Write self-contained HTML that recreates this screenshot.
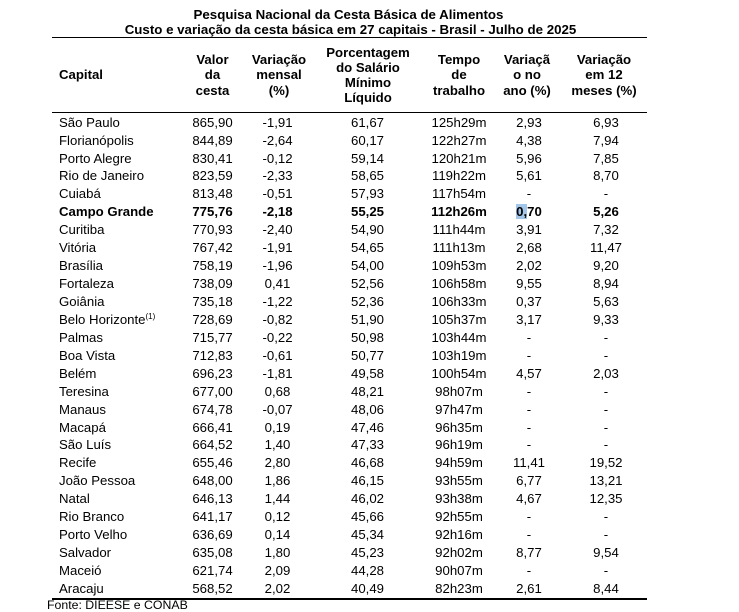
<!DOCTYPE html>
<html>
<head>
<meta charset="utf-8">
<style>
html,body{margin:0;padding:0;background:#fff;}
body{width:739px;height:611px;position:relative;overflow:hidden;font-family:"Liberation Sans",Arial,sans-serif;color:#000;}
.t{position:absolute;left:0;width:697px;text-align:center;font-weight:bold;font-size:13.3px;line-height:15px;white-space:nowrap;}
.hl{position:absolute;left:52px;width:595px;height:1.5px;background:#000;}
.hd{position:absolute;top:38px;height:74px;display:flex;align-items:center;justify-content:center;text-align:center;font-weight:bold;font-size:13.2px;line-height:15.2px;}
.r{position:absolute;left:0;width:739px;height:17.93px;font-size:13.2px;line-height:17.93px;white-space:nowrap;}
.r span{position:absolute;top:0;text-align:center;}
.r span:nth-child(1){left:59px;text-align:left;}
.r span:nth-child(2){left:180px;width:65px;}
.r span:nth-child(3){left:245px;width:65px;}
.r span:nth-child(4){left:310px;width:115px;}
.r span:nth-child(5){left:425px;width:68px;}
.r span:nth-child(6){left:493px;width:72px;}
.r span:nth-child(7){left:565px;width:82px;}
.b{font-weight:bold;}
sup{font-size:8px;line-height:0;vertical-align:5px;}
.sel{background:#a3c6e8;}
</style>
</head>
<body>
<div class="t" style="top:6.5px;">Pesquisa Nacional da Cesta Básica de Alimentos</div>
<div class="t" style="top:21.5px;left:2px;">Custo e variação da cesta básica em 27 capitais - Brasil - Julho de 2025</div>

<div class="hl" style="top:36.5px;"></div>
<div class="hd" style="left:59px;width:120px;justify-content:flex-start;">Capital</div>
<div class="hd" style="left:180px;width:65px;">Valor<br>da<br>cesta</div>
<div class="hd" style="left:245px;width:68px;">Variação<br>mensal<br>(%)</div>
<div class="hd" style="left:313px;width:110px;">Porcentagem<br>do Salário<br>Mínimo<br>Líquido</div>
<div class="hd" style="left:425px;width:68px;">Tempo<br>de<br>trabalho</div>
<div class="hd" style="left:493px;width:68px;">Variaçã<br>o no<br>ano (%)</div>
<div class="hd" style="left:563px;width:82px;">Variação<br>em 12<br>meses (%)</div>
<div class="hl" style="top:111.5px;"></div>

<div class="r" style="top:113.7px"><span>São Paulo</span><span>865,90</span><span>-1,91</span><span>61,67</span><span>125h29m</span><span>2,93</span><span>6,93</span></div>
<div class="r" style="top:131.63px"><span>Florianópolis</span><span>844,89</span><span>-2,64</span><span>60,17</span><span>122h27m</span><span>4,38</span><span>7,94</span></div>
<div class="r" style="top:149.56px"><span>Porto Alegre</span><span>830,41</span><span>-0,12</span><span>59,14</span><span>120h21m</span><span>5,96</span><span>7,85</span></div>
<div class="r" style="top:167.49px"><span>Rio de Janeiro</span><span>823,59</span><span>-2,33</span><span>58,65</span><span>119h22m</span><span>5,61</span><span>8,70</span></div>
<div class="r" style="top:185.42px"><span>Cuiabá</span><span>813,48</span><span>-0,51</span><span>57,93</span><span>117h54m</span><span>-</span><span>-</span></div>
<div class="r b" style="top:203.35px"><span>Campo Grande</span><span>775,76</span><span>-2,18</span><span>55,25</span><span>112h26m</span><span><i class="sel" style="font-style:normal">0,</i>70</span><span>5,26</span></div>
<div class="r" style="top:221.28px"><span>Curitiba</span><span>770,93</span><span>-2,40</span><span>54,90</span><span>111h44m</span><span>3,91</span><span>7,32</span></div>
<div class="r" style="top:239.21px"><span>Vitória</span><span>767,42</span><span>-1,91</span><span>54,65</span><span>111h13m</span><span>2,68</span><span>11,47</span></div>
<div class="r" style="top:257.14px"><span>Brasília</span><span>758,19</span><span>-1,96</span><span>54,00</span><span>109h53m</span><span>2,02</span><span>9,20</span></div>
<div class="r" style="top:275.07px"><span>Fortaleza</span><span>738,09</span><span>0,41</span><span>52,56</span><span>106h58m</span><span>9,55</span><span>8,94</span></div>
<div class="r" style="top:293.0px"><span>Goiânia</span><span>735,18</span><span>-1,22</span><span>52,36</span><span>106h33m</span><span>0,37</span><span>5,63</span></div>
<div class="r" style="top:310.93px"><span>Belo Horizonte<sup>(1)</sup></span><span>728,69</span><span>-0,82</span><span>51,90</span><span>105h37m</span><span>3,17</span><span>9,33</span></div>
<div class="r" style="top:328.86px"><span>Palmas</span><span>715,77</span><span>-0,22</span><span>50,98</span><span>103h44m</span><span>-</span><span>-</span></div>
<div class="r" style="top:346.79px"><span>Boa Vista</span><span>712,83</span><span>-0,61</span><span>50,77</span><span>103h19m</span><span>-</span><span>-</span></div>
<div class="r" style="top:364.72px"><span>Belém</span><span>696,23</span><span>-1,81</span><span>49,58</span><span>100h54m</span><span>4,57</span><span>2,03</span></div>
<div class="r" style="top:382.65px"><span>Teresina</span><span>677,00</span><span>0,68</span><span>48,21</span><span>98h07m</span><span>-</span><span>-</span></div>
<div class="r" style="top:400.58px"><span>Manaus</span><span>674,78</span><span>-0,07</span><span>48,06</span><span>97h47m</span><span>-</span><span>-</span></div>
<div class="r" style="top:418.51px"><span>Macapá</span><span>666,41</span><span>0,19</span><span>47,46</span><span>96h35m</span><span>-</span><span>-</span></div>
<div class="r" style="top:436.44px"><span>São Luís</span><span>664,52</span><span>1,40</span><span>47,33</span><span>96h19m</span><span>-</span><span>-</span></div>
<div class="r" style="top:454.37px"><span>Recife</span><span>655,46</span><span>2,80</span><span>46,68</span><span>94h59m</span><span>11,41</span><span>19,52</span></div>
<div class="r" style="top:472.3px"><span>João Pessoa</span><span>648,00</span><span>1,86</span><span>46,15</span><span>93h55m</span><span>6,77</span><span>13,21</span></div>
<div class="r" style="top:490.23px"><span>Natal</span><span>646,13</span><span>1,44</span><span>46,02</span><span>93h38m</span><span>4,67</span><span>12,35</span></div>
<div class="r" style="top:508.16px"><span>Rio Branco</span><span>641,17</span><span>0,12</span><span>45,66</span><span>92h55m</span><span>-</span><span>-</span></div>
<div class="r" style="top:526.09px"><span>Porto Velho</span><span>636,69</span><span>0,14</span><span>45,34</span><span>92h16m</span><span>-</span><span>-</span></div>
<div class="r" style="top:544.02px"><span>Salvador</span><span>635,08</span><span>1,80</span><span>45,23</span><span>92h02m</span><span>8,77</span><span>9,54</span></div>
<div class="r" style="top:561.95px"><span>Maceió</span><span>621,74</span><span>2,09</span><span>44,28</span><span>90h07m</span><span>-</span><span>-</span></div>
<div class="r" style="top:579.88px"><span>Aracaju</span><span>568,52</span><span>2,02</span><span>40,49</span><span>82h23m</span><span>2,61</span><span>8,44</span></div>

<div class="hl" style="top:598.3px;"></div>
<div style="position:absolute;left:47px;top:598px;font-size:12.3px;line-height:14px;white-space:nowrap;">Fonte: DIEESE e CONAB</div>
</body>
</html>
